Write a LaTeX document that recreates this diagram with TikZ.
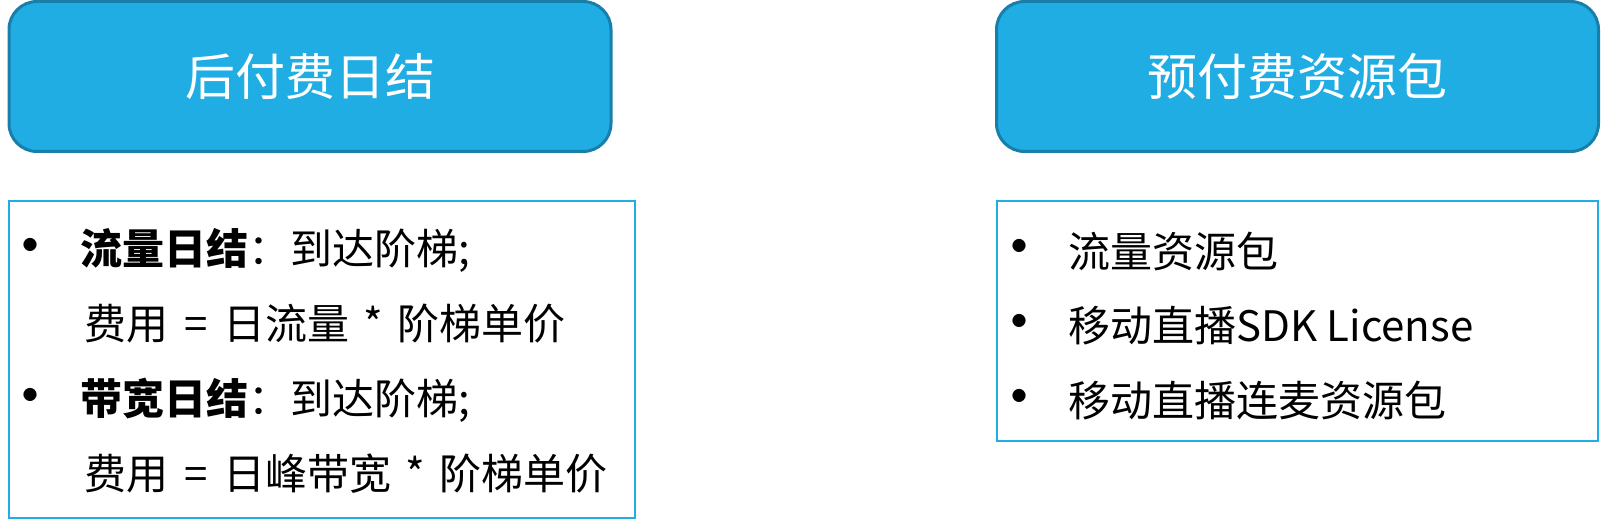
\documentclass[tikz,border=0pt]{standalone}
\usepackage{fontspec}
\setmainfont{Noto Sans CJK SC}
\usetikzlibrary{positioning}
\definecolor{boxblue}{RGB}{31,173,228}
\definecolor{boxedge}{RGB}{24,126,170}

\begin{document}
\begin{tikzpicture}[x=1pt,y=-1pt]

    % styles
    \tikzstyle{head} = [draw=boxedge,line width=3pt,fill=boxblue,rounded corners=28pt,
        minimum width=602pt,minimum height=150pt,inner sep=0pt,text=white,
        font=\fontsize{50}{60}\selectfont]
    \tikzstyle{panel} = [draw=boxblue,line width=2.5pt,inner sep=0pt]
    \tikzstyle{item} = [anchor=west,inner sep=0pt,font=\fontsize{42}{50}\selectfont]
    \tikzstyle{dot} = [inner sep=0pt,anchor=center,yshift=-3pt,font=\fontsize{62}{62}\selectfont]

    \useasboundingbox (0,0) rectangle (1601,524);

    % postpaid
    \node[head] (post) at (310,76.5) {后付费日结};
    \node[panel,minimum width=626pt,minimum height=317pt] (postbox) at (322,359.5) {};
    \node[dot] (postdotA) at (30,250) {•};
    \node[item] (postA) at (80,250) {{\bfseries 流量日结}：到达阶梯;};
    \node[item] (postB) at (84,324) {费用\hspace{16pt}=\hspace{16pt}日流量\hspace{14pt}*\hspace{14pt}阶梯单价};
    \node[dot] (postdotB) at (30,400) {•};
    \node[item] (postC) at (80,400) {{\bfseries 带宽日结}：到达阶梯;};
    \node[item] (postD) at (84,474) {费用\hspace{16pt}=\hspace{16pt}日峰带宽\hspace{14pt}*\hspace{14pt}阶梯单价};

    % prepaid
    \node[head] (pre) at (1297.5,76.5) {预付费资源包};
    \node[panel,minimum width=601pt,minimum height=240pt] (prebox) at (1297.5,321) {};
    \foreach \y/\t [count=\i] in {251/流量资源包,326/移动直播SDK License,401/移动直播连麦资源包} {
        \node[dot] (predot\i) at (1019,\y) {•};
        \node[item] (pre\i) at (1068,\y) {\t};
    }
\end{tikzpicture}
\end{document}
